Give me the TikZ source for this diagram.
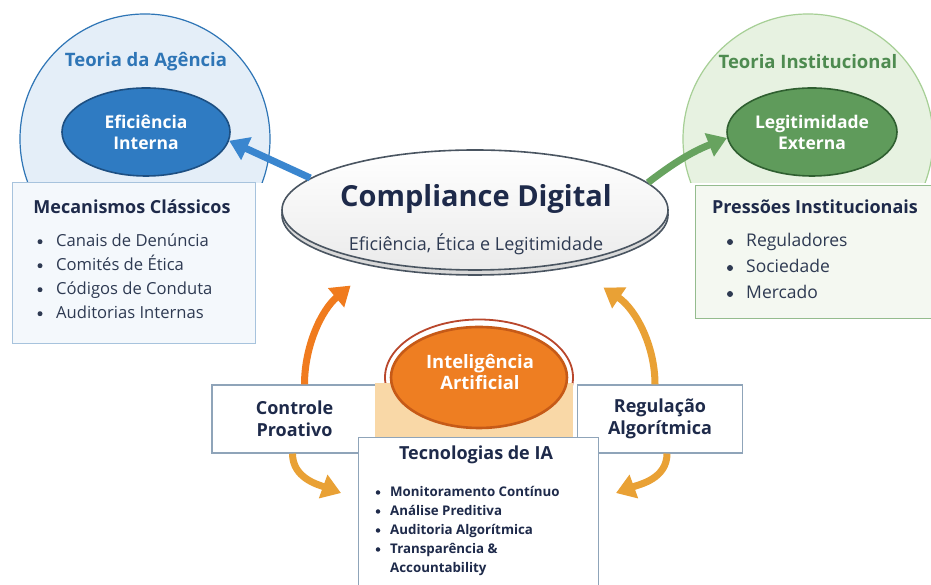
\documentclass[tikz,border=0pt]{standalone}
\usepackage{fontspec}
\setmainfont{Open Sans}
\usepackage{tikz}
\usetikzlibrary{shapes,arrows.meta,positioning,calc}

\definecolor{agblue}{HTML}{2E75B6}
\definecolor{agfill}{HTML}{E4EEF8}
\definecolor{eifill}{HTML}{2F7BC2}
\definecolor{eiborder}{HTML}{1D4F82}
\definecolor{mcfill}{HTML}{F4F8FC}
\definecolor{mcborder}{HTML}{A7C3DD}
\definecolor{navy}{HTML}{1E2A4A}
\definecolor{itemtext}{HTML}{2E3A52}
\definecolor{tigreen}{HTML}{4E8B50}
\definecolor{tifill}{HTML}{E7F2E1}
\definecolor{tiborder}{HTML}{A6CF95}
\definecolor{lefill}{HTML}{5F9B5B}
\definecolor{leborder}{HTML}{2F5F30}
\definecolor{pifill}{HTML}{F4F8F1}
\definecolor{piborder}{HTML}{94BC8E}
\definecolor{cdborder}{HTML}{4A5561}
\definecolor{orangeA}{HTML}{F07B1E}
\definecolor{goldA}{HTML}{E9A135}
\definecolor{iafill}{HTML}{EE7E22}
\definecolor{iaborder}{HTML}{C65A17}
\definecolor{ringred}{HTML}{B9472C}
\definecolor{peach}{HTML}{F9D8A7}
\definecolor{fborder}{HTML}{8FA4B9}
\definecolor{bluearrow}{HTML}{3A86CF}
\definecolor{greenarrow}{HTML}{67A35F}

\tikzstyle{bigcircle}=[circle,minimum size=250pt,inner sep=0pt,line width=1.2pt]
\tikzstyle{inner}=[ellipse,draw,line width=1.6pt,inner sep=0pt,text=white,align=center,font=\bfseries\fontsize{17.5}{21}\selectfont]
\tikzstyle{listbox}=[draw,rectangle,line width=1.2pt,anchor=north west,inner sep=0pt]
\tikzstyle{boxtitle}=[text=navy,font=\bfseries\fontsize{18}{20}\selectfont]
\tikzstyle{theory}=[font=\bfseries\fontsize{18.5}{20}\selectfont]
\tikzstyle{item}=[anchor=base west,inner sep=0pt,text=itemtext,font=\fontsize{16.6}{20}\selectfont]
\tikzstyle{dot}=[circle,inner sep=0pt,minimum size=5pt,fill=itemtext]
\tikzstyle{smallitem}=[anchor=base west,inner sep=0pt,text=navy,font=\bfseries\fontsize{13.3}{16}\selectfont]
\tikzstyle{flowbox}=[draw=fborder,fill=white,line width=1.2pt,minimum width=165pt,minimum height=68pt,align=center,text=navy,font=\bfseries\fontsize{18}{22}\selectfont]
\tikzstyle{flow}=[line width=7pt,-{Triangle[length=19pt,width=24pt]}]

\begin{document}
\begin{tikzpicture}[x=1pt,y=1pt]
    \useasboundingbox[fill=white] (0,0) rectangle (931,585);

    % Teoria da Agencia / Teoria Institucional
    \begin{scope}
        \clip (0,402) rectangle (931,585);
        \node[bigcircle,draw=agblue,fill=agfill] (ta) at (145,446) {};
        \node[bigcircle,draw=tiborder,fill=tifill] (ti) at (808,446) {};
    \end{scope}
    \node[theory,text=agblue] (tat) at (146,523) {Teoria da Agência};
    \node[inner,fill=eifill,draw=eiborder,minimum width=168pt,minimum height=88pt] (ei) at (146,453) {Eficiência\\Interna};

    \node[listbox,fill=mcfill,draw=mcborder,minimum width=243pt,minimum height=161pt] (mc) at (12,403) {};
    \node[boxtitle] (mct) at (132,378) {Mecanismos Clássicos};
    \foreach \y/\t [count=\i] in {338.5/Canais de Denúncia, 314.5/Comités de Ética, 290.5/Códigos de Conduta, 266.5/Auditorias Internas}{
        \node[dot] (mb\i) at (40,\y+4.8) {};
        \node[item] (mi\i) at (56,\y) {\t};
    }

    \node[theory,text=tigreen] (tit) at (808,523) {Teoria Institucional};
    \node[inner,fill=lefill,draw=leborder,minimum width=170pt,minimum height=88pt] (le) at (812,453) {Legitimidade\\Externa};

    \node[listbox,fill=pifill,draw=piborder,minimum width=236pt,minimum height=133pt] (pi) at (695,400) {};
    \node[boxtitle] (pit) at (815,378) {Pressões Institucionais};
    \foreach \y/\t [count=\i] in {338/Reguladores, 312/Sociedade, 286/Mercado}{
        \node[dot,minimum size=6pt] (pb\i) at (730,\y+5) {};
        \node[item,font=\fontsize{17.5}{20}\selectfont] (pt\i) at (746,\y) {\t};
    }

    % Compliance Digital
    \node[ellipse,draw=cdborder,line width=1.6pt,fill=black!15,minimum width=386pt,minimum height=120pt] (cds) at (475,370) {};
    \node[ellipse,draw=cdborder,line width=1.6pt,top color=white,bottom color=black!8,minimum width=386pt,minimum height=120pt] (cd) at (475,375) {};
    \node[text=navy,font=\bfseries\fontsize{29}{32}\selectfont] (cdt) at (476,386) {Compliance Digital};
    \node[text=itemtext,font=\fontsize{18}{20}\selectfont] (cdsub) at (476,341) {Eficiência, Ética e Legitimidade};

    \draw[flow,bluearrow] (cd.169) -- (ei.-6);
    \draw[flow,greenarrow] (cd.9) to[bend left=8] (le.184);

    % Inteligencia Artificial
    \node[flowbox] (cp) at (294.5,166) {Controle\\Proativo};
    \node[flowbox] (ra) at (660,166) {Regulação\\Algorítmica};
    \node[ellipse,draw=ringred,line width=1.8pt,fill=white,minimum width=188pt,minimum height=116pt] (ring) at (479,207.5) {};
    \node[rectangle,fill=peach,minimum width=198pt,minimum height=55pt,inner sep=0pt] (pad) at (474,174.5) {};
    \node[ellipse,fill=iafill,draw=iaborder,line width=2.6pt,minimum width=176pt,minimum height=101pt] (ia) at (479,207.5) {};
    \node[text=white,align=center,font=\bfseries\fontsize{18.4}{21}\selectfont] (iat) at (480,213) {Inteligência\\Artificial};

    \node[listbox,fill=white,draw=fborder,minimum width=240pt,minimum height=160pt] (tec) at (358,148) {};
    \node[boxtitle] (tect) at (476,130) {Tecnologias de IA};
    \foreach \y/\t [count=\i] in {88.5/Monitoramento Contínuo, 69.5/Análise Preditiva, 50.5/Auditoria Algorítmica, 31.5/Transparência \&}{
        \node[dot,minimum size=4.5pt,fill=navy] (tb\i) at (378,\y+4) {};
        \node[smallitem] (ti\i) at (390,\y) {\t};
    }
    \node[smallitem] (ti5) at (390,12.5) {Accountability};

    \draw[flow,orangeA] ([xshift=10pt]cp.north) arc[start angle=180,end angle=130,radius=129pt];
    \draw[flow,goldA] ([xshift=-5pt]ra.north) arc[start angle=0,end angle=56,radius=117pt];
    \draw[flow,goldA] ([xshift=-2pt]cp.south) to[out=-90,in=160] (341,92);
    \draw[flow,goldA] ([xshift=7pt]ra.south) to[out=-90,in=20] (616,92);

\end{tikzpicture}
\end{document}
